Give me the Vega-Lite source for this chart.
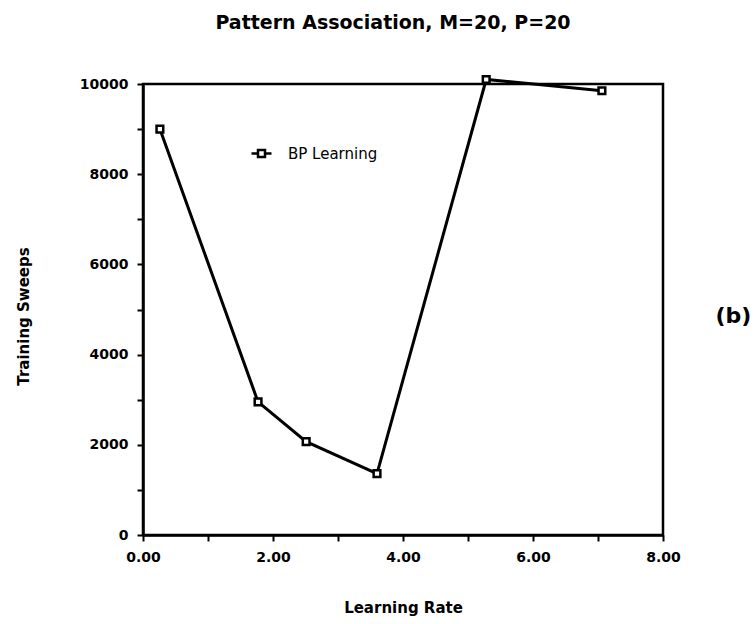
{
  "$schema": "https://vega.github.io/schema/vega-lite/v6.json",
  "autosize": "none",
  "width": 520,
  "height": 451,
  "padding": {"left": 143, "top": 84, "right": 91, "bottom": 89},
  "background": "white",
  "title": {"text": "Pattern Association, M=20, P=20", "font": "DejaVu Sans", "fontSize": 19, "fontWeight": "bold", "color": "black", "offset": 38, "dx": -10},
  "config": {
    "view": {"stroke": "black", "strokeWidth": 2.5},
    "axis": {"labelFont": "DejaVu Sans", "labelFontWeight": "bold", "labelFontSize": 14, "labelColor": "black", "titleFont": "DejaVu Sans", "titleFontWeight": "bold", "titleFontSize": 15, "titleColor": "black", "domainColor": "black", "domainWidth": 2.5, "tickColor": "black", "tickWidth": 2, "grid": false}
  },
  "data": {"values": [
    {"rate": 0.26, "sweeps": 9000, "series": "BP Learning"},
    {"rate": 1.77, "sweeps": 2950, "series": "BP Learning"},
    {"rate": 2.51, "sweeps": 2070, "series": "BP Learning"},
    {"rate": 3.6, "sweeps": 1360, "series": "BP Learning"},
    {"rate": 5.28, "sweeps": 10100, "series": "BP Learning"},
    {"rate": 7.06, "sweeps": 9850, "series": "BP Learning"}
  ]},
  "layer": [
    {
      "mark": {"type": "line", "color": "black", "strokeWidth": 3},
      "encoding": {
        "x": {"field": "rate", "type": "quantitative", "scale": {"domain": [0, 8], "nice": false},
          "axis": {"values": [0,1,2,3,4,5,6,7,8], "labelExpr": "datum.value % 2 == 0 ? format(datum.value, '.2f') : ''", "tickSize": 6, "labelPadding": 9, "title": "Learning Rate", "titlePadding": 36, "labelFlush": false}},
        "y": {"field": "sweeps", "type": "quantitative", "scale": {"domain": [0, 10000], "nice": false},
          "axis": {"values": [0,1000,2000,3000,4000,5000,6000,7000,8000,9000,10000], "labelExpr": "datum.value % 2000 == 0 ? datum.value : ''", "tickSize": 6, "labelPadding": 9, "title": "Training Sweeps", "titlePadding": 48, "titleY": 232, "labelFlush": false}},
        "color": {"field": "series", "type": "nominal", "scale": {"range": ["black"]},
          "legend": {"orient": "none", "legendX": 107, "legendY": 58, "title": null, "symbolType": "M-1,0H-0.35M0.35,0H1M-0.35,-0.35H0.35V0.35H-0.35Z", "symbolSize": 400, "symbolFillColor": "white", "symbolStrokeColor": "black", "symbolStrokeWidth": 2.5, "labelFont": "DejaVu Sans", "labelFontSize": 15, "labelColor": "black", "labelOffset": 15}}
      }
    },
    {
      "mark": {"type": "point", "shape": "square", "filled": true, "fill": "white", "stroke": "black", "strokeWidth": 2.5, "size": 45, "opacity": 1},
      "encoding": {
        "x": {"field": "rate", "type": "quantitative"},
        "y": {"field": "sweeps", "type": "quantitative", "axis": {"orient": "right", "title": "(b)", "titleAngle": 0, "titleFontSize": 22, "titleFontWeight": "bold", "titleBaseline": "middle", "titleAlign": "left", "titleY": 231, "titlePadding": 52, "labels": false, "ticks": false, "domain": false}}
      }
    }
  ],
  "resolve": {"axis": {"y": "independent"}}
}
